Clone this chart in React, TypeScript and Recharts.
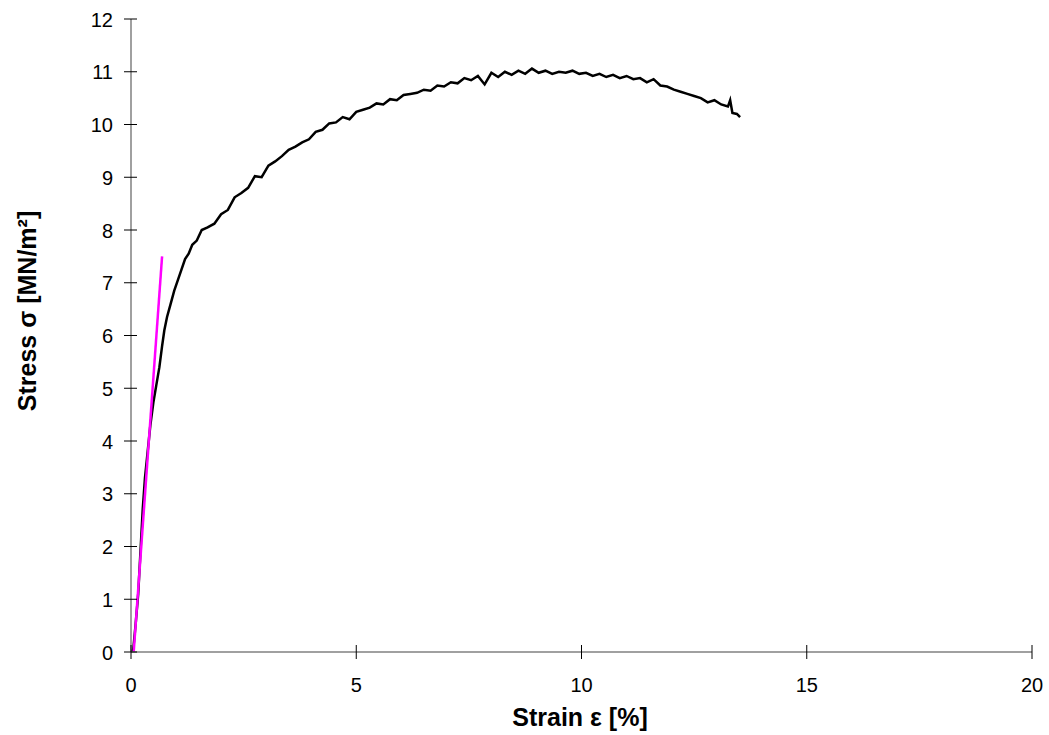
import React from 'react';
import { LineChart, Line, XAxis, YAxis, Label } from 'recharts';

// strain [%] and stress [MN/m²] of the measured curve
const strain = [
  0, 0.05, 0.1, 0.16, 0.21, 0.26, 0.31, 0.37, 0.43, 0.5, 0.56, 0.63, 0.69, 0.74, 0.8, 0.88, 0.96,
  1.04, 1.12, 1.2, 1.28, 1.36, 1.46, 1.57,
  1.7, 1.85, 2.0, 2.15, 2.3, 2.45, 2.6, 2.75, 2.9, 3.05, 3.2, 3.35, 3.5, 3.65, 3.8, 3.95,
  4.1, 4.25, 4.4, 4.55, 4.7, 4.85, 5.0, 5.15, 5.3, 5.45, 5.6, 5.75, 5.9, 6.05, 6.2, 6.35,
  6.5, 6.65, 6.8, 6.95, 7.1, 7.25, 7.4, 7.55, 7.7, 7.85, 8.0, 8.15, 8.3, 8.45, 8.6, 8.75,
  8.9, 9.05, 9.2, 9.35, 9.5, 9.65, 9.8, 9.95, 10.1, 10.25, 10.4, 10.55, 10.7, 10.85, 11.0,
  11.15, 11.3, 11.45, 11.6, 11.75, 11.9, 12.05, 12.2, 12.35, 12.5, 12.65, 12.8, 12.95,
  13.1, 13.25, 13.3, 13.35, 13.45, 13.52,
];
const stress = [
  0, 0.05, 0.5, 1.1, 1.9, 2.7, 3.3, 3.8, 4.3, 4.75, 5.05, 5.4, 5.8, 6.1, 6.35, 6.6, 6.85,
  7.05, 7.25, 7.45, 7.55, 7.72, 7.8, 8.0,
  8.05, 8.12, 8.3, 8.38, 8.62, 8.7, 8.8, 9.02, 9.0, 9.22, 9.3, 9.4, 9.52, 9.58, 9.66, 9.72,
  9.86, 9.9, 10.02, 10.04, 10.14, 10.1, 10.24, 10.28, 10.32, 10.4, 10.38, 10.48, 10.46, 10.56, 10.58, 10.6,
  10.66, 10.64, 10.74, 10.72, 10.8, 10.78, 10.88, 10.84, 10.92, 10.76, 10.98, 10.9, 11.0, 10.94, 11.02, 10.96,
  11.06, 10.98, 11.02, 10.96, 11.0, 10.98, 11.02, 10.96, 10.98, 10.92, 10.96, 10.9, 10.94, 10.88, 10.92,
  10.86, 10.88, 10.8, 10.86, 10.74, 10.72, 10.66, 10.62, 10.58, 10.54, 10.5, 10.42, 10.46,
  10.38, 10.34, 10.46, 10.22, 10.2, 10.14,
];

// elastic (Young's modulus) line
const modulusStrain = [0.06, 0.69];
const modulusStress = [0, 7.5];

const xTicks = [0, 5, 10, 15, 20];
const yTicks = [0, 1, 2, 3, 4, 5, 6, 7, 8, 9, 10, 11, 12];

const curveData = strain.map((e, i) => ({ e, s: stress[i] }));
const modulusData = modulusStrain.map((e, i) => ({ e, s: modulusStress[i] }));

const XTick = (props: any) => {
  const { x, y, payload } = props;
  return (
    <g>
      <line x1={x} x2={x} y1={y - 7} y2={y + 7} stroke="#000" strokeWidth={1} />
      <text x={x} y={y + 40} textAnchor="middle" fontSize={20} fill="#000">{payload.value}</text>
    </g>
  );
};

const YTick = (props: any) => {
  const { x, y, payload } = props;
  return (
    <g>
      <line x1={x - 7} x2={x + 6} y1={y} y2={y} stroke="#000" strokeWidth={1} />
      <text x={x - 18} y={y + 7.5} textAnchor="end" fontSize={20} fill="#000">{payload.value}</text>
    </g>
  );
};

export default function App() {
  return (
    <div style={{ position: 'absolute', left: 0, top: 0, width: 1049, height: 735, background: '#fff', fontFamily: '"Liberation Sans", Arial, sans-serif' }}>
      <LineChart width={1049} height={735} margin={{ top: 19, right: 17, bottom: 0, left: 0 }}>
        <XAxis
          type="number"
          dataKey="e"
          domain={[0, 20]}
          ticks={xTicks}
          height={83}
          tickSize={0}
          tickMargin={0}
          tick={<XTick />}
          tickLine={false}
          axisLine={{ stroke: '#808080', strokeWidth: 1.5 }}
          allowDataOverflow
        >
          <Label
            content={() => (
              <text x={580} y={726} textAnchor="middle" fontSize={25} fontWeight="bold" fill="#000">Strain ε [%]</text>
            )}
          />
        </XAxis>
        <YAxis
          type="number"
          dataKey="s"
          domain={[0, 12]}
          ticks={yTicks}
          width={131}
          tickSize={0}
          tickMargin={0}
          tick={<YTick />}
          tickLine={false}
          axisLine={{ stroke: '#808080', strokeWidth: 1.5 }}
          allowDataOverflow
        >
          <Label
            content={() => (
              <text x={36} y={311} transform="rotate(-90 36 311)" textAnchor="middle" fontSize={25} fontWeight="bold" fill="#000">Stress σ [MN/m²]</text>
            )}
          />
        </YAxis>
        <Line data={curveData} dataKey="s" type="linear" stroke="#000" strokeWidth={2.5} dot={false} isAnimationActive={false} />
        <Line data={modulusData} dataKey="s" type="linear" stroke="#ff00ff" strokeWidth={2.5} dot={false} isAnimationActive={false} />
      </LineChart>
    </div>
  );
}
